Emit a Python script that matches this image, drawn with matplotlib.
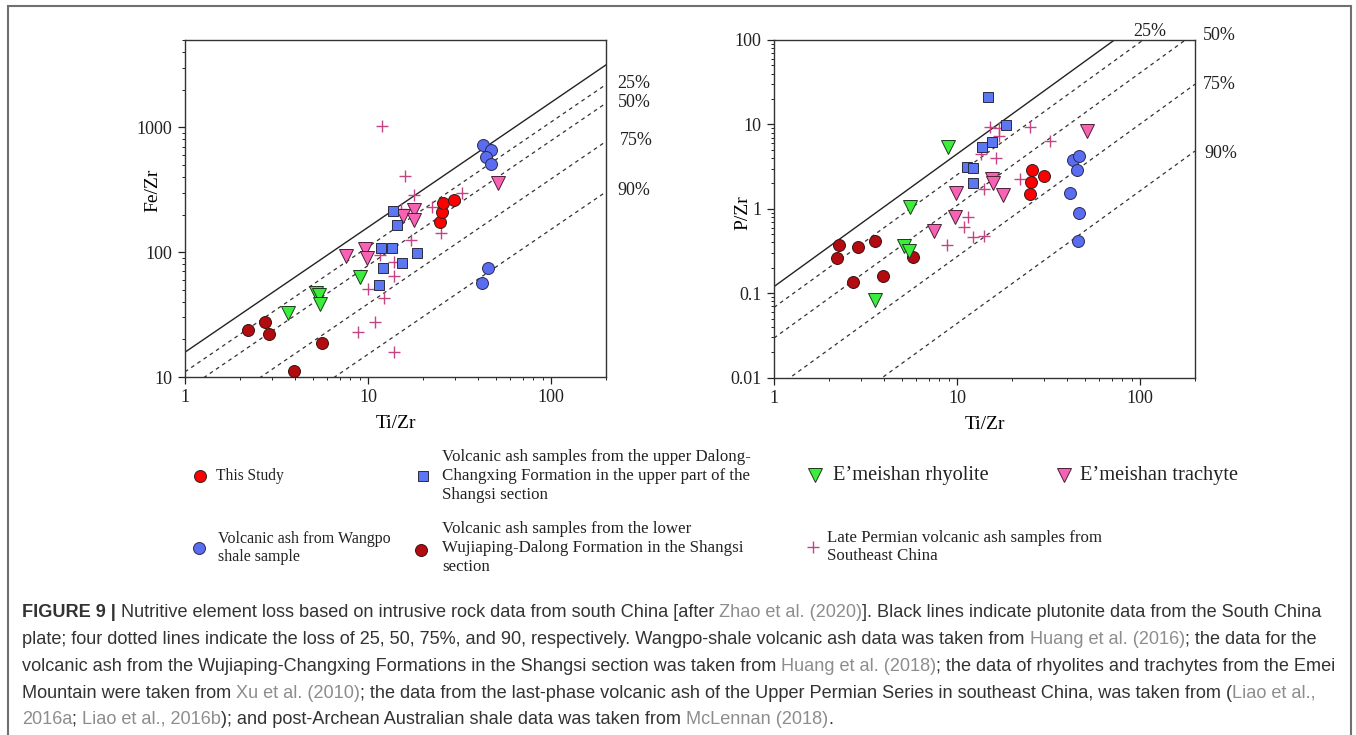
import matplotlib

matplotlib.use('Agg')

import numpy as np
import matplotlib.pyplot as plt
from matplotlib.patches import Rectangle
from matplotlib.ticker import LogLocator, NullFormatter, FixedLocator, FixedFormatter

plt.rcParams['font.family'] = ['Liberation Serif', 'DejaVu Serif']

# ---- Fe/Zr vs Ti/Zr ----
study_ti_fe = [24.8, 25.4, 25.6, 29.7]
study_fe = [175, 211, 247, 261]
wangpo_ti_fe = [42.6, 46.9, 44.0, 46.9, 45.5, 42.2]
wangpo_fe = [716, 662, 578, 507, 74.7, 56.9]
upper_ti_fe = [13.7, 14.5, 11.8, 13.5, 18.5, 15.3, 12.05, 11.5]
upper_fe = [214, 164, 108, 108, 97.9, 82.4, 74.7, 54.2]
lower_ti_fe = [2.21, 2.73, 2.88, 5.6, 3.93]
lower_fe = [23.7, 27.5, 22.3, 18.7, 11.1]
rhyo_ti_fe = [3.66, 5.2, 5.37, 5.46, 8.99]
rhyo_fe = [32.3, 47, 45.3, 38.4, 63.5]
trachy_ti_fe = [51.4, 17.8, 15.5, 17.9, 7.54, 9.69, 9.89]
trachy_fe = [361, 219, 195, 181, 92.7, 106.7, 89.8]
se_ti_fe = [11.9, 15.9, 17.8, 32.6, 22.5, 15.2, 25.0, 17.1, 11.6, 13.9, 13.9,
            10.0, 12.2, 10.9, 8.81, 13.8]
se_fe = [1019, 409, 286, 295, 231, 221, 142, 125, 94.4, 83.9, 64.4,
         50.9, 42.9, 27.7, 22.9, 15.8]

# ---- P/Zr vs Ti/Zr ----
study_ti_p = [25.2, 25.4, 25.7, 30.0]
study_p = [1.5, 2.1, 2.88, 2.45]
wangpo_ti_p = [43.1, 46.3, 45.4, 41.7, 46.3, 45.9]
wangpo_p = [3.78, 4.22, 2.88, 1.54, 0.90, 0.42]
upper_ti_p = [14.7, 18.5, 15.5, 13.7, 11.4, 12.2, 12.2]
upper_p = [21.3, 9.76, 6.13, 5.35, 3.16, 3.02, 2.02]
lower_ti_p = [2.27, 2.21, 2.87, 3.56, 2.71, 3.92, 5.73]
lower_p = [0.372, 0.259, 0.35, 0.411, 0.137, 0.16, 0.266]
rhyo_ti_p = [8.98, 5.54, 5.16, 5.47, 3.56]
rhyo_p = [5.45, 1.06, 0.363, 0.32, 0.083]
trachy_ti_p = [51.4, 15.5, 15.7, 17.8, 9.89, 9.77, 7.46]
trachy_p = [8.43, 2.24, 2.0, 1.46, 1.56, 0.79, 0.55]
se_ti_p = [15.2, 16.9, 16.9, 25.0, 32.4, 13.5, 16.3, 22.0, 14.1, 11.5, 10.9,
           12.2, 14.1, 8.87]
se_p = [9.4, 9.0, 7.2, 9.25, 6.4, 4.46, 3.96, 2.25, 1.70, 0.79, 0.61,
        0.47, 0.48, 0.37]

# loss lines: value at Ti/Zr = 1 and log-log slope
loss_labels = ['', '25%', '50%', '75%', '90%']
fe_intercepts = [15.8, 11.0, 7.8, 3.85, 1.52]
fe_slope = 1.0
p_intercepts = [0.12, 0.068, 0.0295, 0.0073, 0.00118]
p_slope = 1.57

W, H = 1356, 735
fig = plt.figure(figsize=(W / 100, H / 100), dpi=100)

styles = {
    'study': dict(marker='o', mfc='#ff0000', ms=8.6, mec='#3a1a1a', mew=0.7),
    'wangpo': dict(marker='o', mfc='#5a6cf0', ms=8.6, mec='#2a2a50', mew=0.7),
    'upper': dict(marker='s', mfc='#5b78f2', ms=7.6, mec='#2a2a40', mew=0.7),
    'lower': dict(marker='o', mfc='#b30c10', ms=8.6, mec='#3a1010', mew=0.7),
    'rhyo': dict(marker='v', mfc='#3cee3c', ms=9.5, mec='#1f3a1f', mew=0.7),
    'trachy': dict(marker='v', mfc='#f762b4', ms=9.5, mec='#4a2035', mew=0.7),
    'se': dict(marker='+', color='#c44584', ms=8.5, mew=1.0),
}


def draw_panel(ax, series, intercepts, slope, ylim, ylabel, ylabel_xy):
    xs = np.array([1.0, 200.0])
    for i, a in enumerate(intercepts):
        ys = a * xs ** slope
        if i == 0:
            ax.plot(xs, ys, color='#222222', lw=1.0, zorder=1)
        else:
            ax.plot(xs, ys, color='#333333', lw=0.9, ls=(0, (3, 3)), zorder=1)
    for key, (x, y) in series:
        ax.plot(x, y, ls='none', zorder=3, **styles[key])
    ax.set_xscale('log')
    ax.set_yscale('log')
    ax.set_xlim(1, 200)
    ax.set_ylim(*ylim)
    ax.xaxis.set_major_locator(FixedLocator([1, 10, 100]))
    ax.xaxis.set_major_formatter(FixedFormatter(['1', '10', '100']))
    ax.xaxis.set_minor_locator(LogLocator(base=10, subs=np.arange(2, 10)))
    ax.xaxis.set_minor_formatter(NullFormatter())
    ax.yaxis.set_minor_locator(LogLocator(base=10, subs=np.arange(2, 10)))
    ax.yaxis.set_minor_formatter(NullFormatter())
    ax.tick_params(which='major', direction='out', length=5, width=0.9,
                   labelsize=13, pad=4, colors='#222222')
    ax.tick_params(which='minor', direction='out', length=2.5, width=0.7,
                   colors='#222222')
    for sp in ax.spines.values():
        sp.set_linewidth(1.0)
        sp.set_color('#333333')
    ax.set_xlabel('Ti/Zr', fontsize=14, labelpad=6)
    ax.set_ylabel(ylabel, fontsize=14)
    ax.yaxis.set_label_coords(*ylabel_xy)


ax1 = fig.add_axes([185 / W, 1 - 377 / H, 421 / W, 337 / H])
draw_panel(ax1, [
    ('se', (se_ti_fe, se_fe)),
    ('lower', (lower_ti_fe, lower_fe)),
    ('rhyo', (rhyo_ti_fe, rhyo_fe)),
    ('trachy', (trachy_ti_fe, trachy_fe)),
    ('upper', (upper_ti_fe, upper_fe)),
    ('wangpo', (wangpo_ti_fe, wangpo_fe)),
    ('study', (study_ti_fe, study_fe)),
], fe_intercepts, fe_slope, (10, 5000), 'Fe/Zr', (-0.055, 0.555))
ax1.yaxis.set_major_locator(FixedLocator([10, 100, 1000]))
ax1.yaxis.set_major_formatter(FixedFormatter(['10', '100', '1000']))

ax2 = fig.add_axes([774 / W, 1 - 377.7 / H, 421 / W, 337.7 / H])
draw_panel(ax2, [
    ('se', (se_ti_p, se_p)),
    ('lower', (lower_ti_p, lower_p)),
    ('rhyo', (rhyo_ti_p, rhyo_p)),
    ('trachy', (trachy_ti_p, trachy_p)),
    ('upper', (upper_ti_p, upper_p)),
    ('wangpo', (wangpo_ti_p, wangpo_p)),
    ('study', (study_ti_p, study_p)),
], p_intercepts, p_slope, (0.01, 100), 'P/Zr', (-0.053, 0.488))
ax2.yaxis.set_major_locator(FixedLocator([0.01, 0.1, 1, 10, 100]))
ax2.yaxis.set_major_formatter(FixedFormatter(['0.01', '0.1', '1', '10', '100']))

# overlay in pixel units for line labels, legend and caption
ov = fig.add_axes([0, 0, 1, 1], zorder=-1)
ov.set_xlim(0, W)
ov.set_ylim(H, 0)
ov.axis('off')

fe_label_pos = [(634, 83), (634, 102), (636, 140), (634, 190)]
p_label_pos = [(1150, 31), (1219, 35), (1219, 84), (1221, 153)]
for lab, (x, y) in zip(loss_labels[1:], fe_label_pos):
    ov.text(x, y, lab, fontsize=13, ha='center', va='center', color='#222222')
for lab, (x, y) in zip(loss_labels[1:], p_label_pos):
    ov.text(x, y, lab, fontsize=13, ha='center', va='center', color='#222222')

# legend
legend_items = [
    ('study', (200, 476), (216, 476), 'This Study', 11.2),
    ('upper', (423, 476), (442, 476),
     'Volcanic ash samples from the upper Dalong-\nChangxing Formation in the upper part of the\nShangsi section', 12.2),
    ('rhyo', (815, 475), (833, 475), 'E\u2019meishan rhyolite', 14.7),
    ('trachy', (1064, 475), (1080, 475), 'E\u2019meishan trachyte', 14.7),
    ('wangpo', (199, 548), (218, 548), 'Volcanic ash from Wangpo\nshale sample', 11.5),
    ('lower', (421, 550), (442, 548),
     'Volcanic ash samples from the lower\nWujiaping-Dalong Formation in the Shangsi\nsection', 12.2),
    ('se', (813, 547), (827, 547), 'Late Permian volcanic ash samples from\nSoutheast China', 12.2),
]
for key, (mx, my), (tx, ty), label, fs in legend_items:
    st = dict(styles[key])
    ov.plot([mx], [my], ls='none', **st)
    ov.text(tx, ty, label, fontsize=fs, ha='left', va='center',
            linespacing=1.22, color='#222222')

# caption box
fig.add_artist(Rectangle((8 / W, -0.01), (1351 - 8) / W, 1 - 6 / H + 0.01,
                         transform=fig.transFigure, fill=False,
                         edgecolor='#707070', lw=1.5))

dark = '#333333'
grey = '#8d8d8d'
caption = [
    [('FIGURE 9 | ', dark, 'bold'),
     ('Nutritive element loss based on intrusive rock data from south China [after ', dark, 'normal'),
     ('Zhao et al. (2020)', grey, 'normal'),
     ('. Black lines indicate plutonite data from the South China', dark, 'normal')],
    [('plate; four dotted lines indicate the loss of 25, 50, 75%, and 90, respectively. Wangpo-shale volcanic ash data was taken from ', dark, 'normal'),
     ('Huang et al. (2016)', grey, 'normal'),
     ('; the data for the', dark, 'normal')],
    [('volcanic ash from the Wujiaping-Changxing Formations in the Shangsi section was taken from ', dark, 'normal'),
     ('Huang et al. (2018)', grey, 'normal'),
     ('; the data of rhyolites and trachytes from the Emei', dark, 'normal')],
    [('Mountain were taken from ', dark, 'normal'),
     ('Xu et al. (2010)', grey, 'normal'),
     ('; the data from the last-phase volcanic ash of the Upper Permian Series in southeast China, was taken from (', dark, 'normal'),
     ('Liao et al.,', grey, 'normal')],
    [('2016a', grey, 'normal'),
     ('; ', dark, 'normal'),
     ('Liao et al., 2016b', grey, 'normal'),
     ('); and post-Archean Australian shale data was taken from ', dark, 'normal'),
     ('McLennan (2018)', grey, 'normal'),
     ('.', dark, 'normal')],
]
# closing bracket after the Zhao citation
caption[0][3] = (']' + caption[0][3][0], dark, 'normal')

cap_font = ['Liberation Sans', 'DejaVu Sans']
cap_y = [617, 644, 671, 698, 724]
for y, parts in zip(cap_y, caption):
    prev = None
    for seg, col, wt in parts:
        if prev is None:
            prev = ov.text(22, y, seg, fontsize=13.1, color=col, weight=wt,
                           family=cap_font, ha='left', va='baseline')
        else:
            prev = ov.annotate(seg, xy=(1, 0), xycoords=prev, fontsize=13.1,
                               color=col, weight=wt, family=cap_font,
                               ha='left', va='bottom')

fig.savefig('out.png', dpi=100)
